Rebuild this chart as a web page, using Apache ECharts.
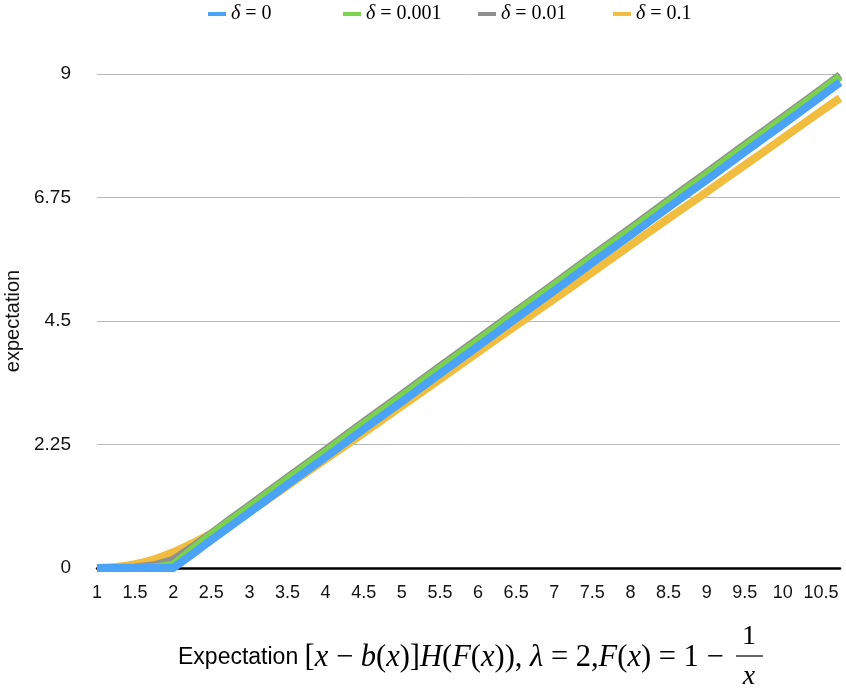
<!DOCTYPE html>
<html>
<head>
<meta charset="utf-8">
<script src="https://cdn.jsdelivr.net/npm/echarts@6/dist/echarts.min.js"></script>
<style>
html,body{margin:0;padding:0;background:#fff;}
#c{width:846px;height:698px;}
</style>
</head>
<body>
<div id="c"></div>
<script>
const xs = [1, 1.25, 1.5, 1.75, 2, 2.25, 2.5, 2.75, 3, 3.5, 4, 4.5, 5, 5.5, 6, 6.5, 7, 7.5, 8, 8.5, 9, 9.5, 10, 10.5, 10.75];
const delta0 = [0, 0, 0, 0, 0, 0.25, 0.51, 0.76, 1.01, 1.52, 2.02, 2.53, 3.03, 3.54, 4.04, 4.55, 5.05, 5.56, 6.06, 6.57, 7.07, 7.58, 8.08, 8.59, 8.85];
const delta0001 = [0, 0, 0, 0.01, 0.06, 0.34, 0.61, 0.86, 1.11, 1.62, 2.12, 2.63, 3.13, 3.64, 4.14, 4.65, 5.15, 5.66, 6.16, 6.67, 7.17, 7.68, 8.18, 8.69, 8.95];
const delta001 = [0, 0, 0.01, 0.05, 0.15, 0.38, 0.63, 0.89, 1.14, 1.65, 2.15, 2.66, 3.16, 3.67, 4.17, 4.68, 5.18, 5.69, 6.19, 6.7, 7.2, 7.71, 8.21, 8.72, 8.98];
const delta01 = [0, 0.02, 0.07, 0.16, 0.29, 0.45, 0.63, 0.82, 1.02, 1.5, 1.98, 2.46, 2.95, 3.44, 3.93, 4.42, 4.9, 5.39, 5.88, 6.37, 6.85, 7.34, 7.83, 8.32, 8.56];
const seriesNames = ['δ = 0', 'δ = 0.001', 'δ = 0.01', 'δ = 0.1'];
const seriesValues = [delta0, delta0001, delta001, delta01];
const colors = ['#4aa3f6', '#7bd24d', '#8f8f8f', '#f0bd3f'];
const yTicks = [0, 2.25, 4.5, 6.75, 9];

const chart = echarts.init(document.getElementById('c'));
const legendLefts = [208, 343, 478, 613];
const zs = [5, 4, 3, 2];
const smooths = [false, false, false, true];

const legends = seriesNames.map((n, i) => ({
  data: [n],
  left: legendLefts[i],
  top: 4,
  padding: 0,
  icon: 'rect',
  itemWidth: 18,
  itemHeight: 4,
  itemGap: 5,
  selectedMode: false,
  formatter: name => name.replace('δ', '{i|δ}'),
  textStyle: {
    fontFamily: 'Liberation Serif',
    fontSize: 20,
    color: '#000',
    rich: { i: { fontFamily: 'Liberation Serif', fontSize: 20, fontStyle: 'italic', color: '#000' } }
  }
}));

const option = {
  animation: false,
  backgroundColor: '#fff',
  color: colors,
  legend: legends,
  grid: { left: 97, right: 6, top: 74, bottom: 130, containLabel: false, outerBoundsMode: 'none' },
  xAxis: {
    type: 'value',
    min: 1,
    max: 10.75,
    interval: 0.5,
    axisLine: { show: true, lineStyle: { color: '#000', width: 2.5 } },
    axisTick: { show: false },
    splitLine: { show: false },
    axisLabel: {
      margin: 16,
      fontFamily: 'Liberation Sans',
      fontSize: 18,
      color: '#111',
      showMaxLabel: false,
      formatter: v => (Math.abs(v * 2 - Math.round(v * 2)) < 1e-9 ? String(v) : '')
    }
  },
  yAxis: {
    type: 'value',
    min: 0,
    max: 9,
    interval: 2.25,
    name: 'expectation',
    nameLocation: 'middle',
    nameGap: 72,
    nameTextStyle: { fontFamily: 'Liberation Sans', fontSize: 20, color: '#111' },
    axisLine: { show: false },
    axisTick: { show: false },
    splitLine: { show: true, lineStyle: { color: '#b8b8b8', width: 1 } },
    axisLabel: {
      margin: 26,
      fontFamily: 'Liberation Sans',
      fontSize: 19,
      color: '#111',
      formatter: v => (yTicks.indexOf(v) >= 0 ? String(v) : '')
    }
  },
  series: seriesNames.map((n, i) => ({
    name: n,
    type: 'line',
    data: xs.map((x, j) => [x, seriesValues[i][j]]),
    showSymbol: false,
    symbol: 'none',
    smooth: smooths[i] ? 0.35 : false,
    clip: false,
    z: zs[i],
    lineStyle: { width: 8, color: colors[i], cap: 'butt', join: 'miter' },
    itemStyle: { color: colors[i] }
  })),
  graphic: [
    {
      type: 'text',
      x: 178,
      y: 658,
      style: {
        text: '{s|Expectation }{m|[}{i|x}{m| − }{i|b}{m|(}{i|x}{m|)]}{i|H}{m|(}{i|F}{m|(}{i|x}{m|)), }{i|λ}{m| = 2,}{i|F}{m|(}{i|x}{m|) = 1 − }',
        fill: '#000',
        verticalAlign: 'middle',
        rich: {
          s: { fontFamily: 'Liberation Sans', fontSize: 23, fill: '#000' },
          m: { fontFamily: 'Liberation Serif', fontSize: 30.5, fill: '#000' },
          i: { fontFamily: 'Liberation Serif', fontSize: 30.5, fontStyle: 'italic', fill: '#000' }
        }
      }
    },
    {
      type: 'text',
      x: 749,
      y: 637,
      style: { text: '1', fontFamily: 'Liberation Serif', fontSize: 28, fill: '#000', align: 'center', verticalAlign: 'middle' }
    },
    {
      type: 'line',
      shape: { x1: 736, y1: 656, x2: 763, y2: 656 },
      style: { stroke: '#000', lineWidth: 1.2 }
    },
    {
      type: 'text',
      x: 749,
      y: 677,
      style: { text: 'x', fontFamily: 'Liberation Serif', fontSize: 28, fontStyle: 'italic', fill: '#000', align: 'center', verticalAlign: 'middle' }
    }
  ]
};
chart.setOption(option);
</script>
</body>
</html>
